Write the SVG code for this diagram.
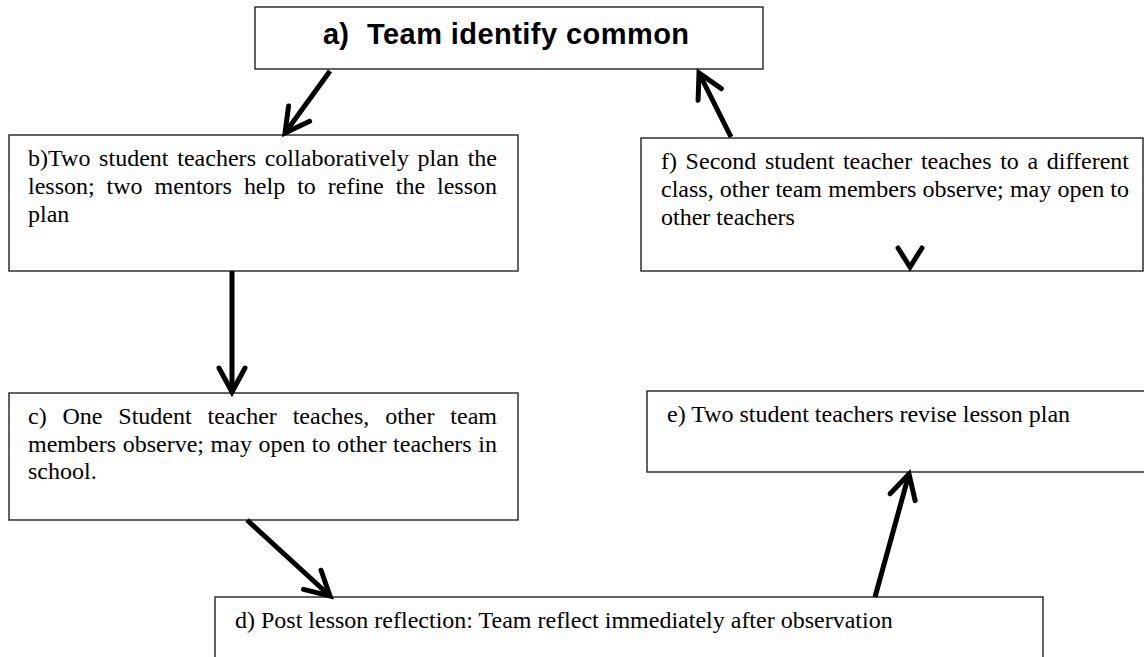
<svg xmlns="http://www.w3.org/2000/svg" width="1144" height="657" viewBox="0 0 1144 657">
  <style>
    .box { fill: #ffffff; stroke: #222222; stroke-width: 1.4; }
    .t { font-family: "Liberation Serif", "Times New Roman", serif; font-size: 24px; fill: #000000; }
    .h { font-family: "Liberation Sans", Arial, sans-serif; font-size: 29px; font-weight: bold; fill: #000000; }
    .conn { stroke: #000000; stroke-width: 5; fill: none; }
    .head { stroke: #000000; stroke-width: 5; fill: none; stroke-linecap: round; stroke-linejoin: miter; }
  </style>
  <defs>
    <marker id="arrow" markerUnits="userSpaceOnUse" orient="auto" refX="0" refY="0" markerWidth="40" markerHeight="40" viewBox="-30 -20 40 40" overflow="visible">
      <path class="head" d="M-24,-13 L0,0 L-24,13"/>
    </marker>
  </defs>
  <rect width="1144" height="657" fill="#ffffff"/>

  <g id="node-a">
    <rect class="box" x="255" y="7" width="508" height="62"/>
    <text class="h" y="44"><tspan x="323">a)</tspan><tspan x="367" textLength="322" lengthAdjust="spacing">Team identify common</tspan></text>
  </g>

  <g id="node-b">
    <rect class="box" x="9" y="135" width="509" height="136"/>
    <text class="t" x="28" y="166" word-spacing="2.6" textLength="469" lengthAdjust="spacing">b)Two student teachers collaboratively plan the</text>
    <text class="t" x="28" y="194" word-spacing="6" textLength="469" lengthAdjust="spacing">lesson; two mentors help to refine the lesson</text>
    <text class="t" x="28" y="222">plan</text>
  </g>

  <g id="node-c">
    <rect class="box" x="9" y="393" width="509" height="127"/>
    <text class="t" x="28" y="424" word-spacing="9.8" textLength="469" lengthAdjust="spacing">c) One Student teacher teaches, other team</text>
    <text class="t" x="28" y="452" word-spacing="0.6" textLength="469" lengthAdjust="spacing">members observe; may open to other teachers in</text>
    <text class="t" x="28" y="479">school.</text>
  </g>

  <g id="node-d">
    <rect class="box" x="215" y="597" width="828" height="80"/>
    <text class="t" x="235" y="628">d) Post lesson reflection: Team reflect immediately after observation</text>
  </g>

  <g id="node-e">
    <rect class="box" x="647" y="391" width="520" height="81"/>
    <text class="t" x="667" y="422">e) Two student teachers revise lesson plan</text>
  </g>

  <g id="node-f">
    <rect class="box" x="641" y="138" width="502" height="133"/>
    <text class="t" x="661" y="169" word-spacing="2.6" textLength="468" lengthAdjust="spacing">f) Second student teacher teaches to a different</text>
    <text class="t" x="661" y="197" word-spacing="0.2" textLength="468" lengthAdjust="spacing">class, other team members observe; may open to</text>
    <text class="t" x="661" y="225">other teachers</text>
  </g>

  <g id="connectors">
    <line class="conn" x1="330" y1="71" x2="285" y2="133" marker-end="url(#arrow)"/>
    <line class="conn" x1="232" y1="271" x2="232" y2="392" marker-end="url(#arrow)"/>
    <line class="conn" x1="247" y1="520" x2="330" y2="596" marker-end="url(#arrow)"/>
    <line class="conn" x1="875" y1="597" x2="909" y2="474" marker-end="url(#arrow)"/>
    <line class="conn" x1="731" y1="137" x2="699" y2="73" marker-end="url(#arrow)"/>
    <path class="head" d="M898,248 L910,267 L922,248"/>
  </g>
</svg>
